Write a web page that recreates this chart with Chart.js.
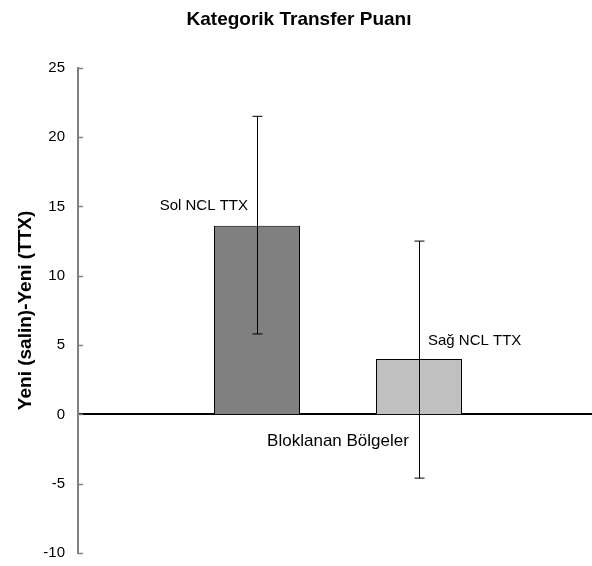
<!DOCTYPE html>
<html>
<head>
<meta charset="utf-8">
<script src="https://cdn.jsdelivr.net/npm/chart.js@4"></script>
<style>
    html, body { margin: 0; padding: 0; background: #fff; overflow: hidden; }
    #wrap { width: 598px; height: 575px; }
</style>
</head>
<body>
<div id="wrap"><canvas id="grafico"></canvas></div>
<script>
// ================= DADOS =================
const categorias = ["Bloklanan Bölgeler"];
const series = ["Sol NCL TTX", "Sağ NCL TTX"];
const medias = [13.6, 4.0];
const erroBaixo = [5.8, -4.6];
const erroAlto = [21.5, 12.5];
const coresBarras = ["#808080", "#c0c0c0"];
const yMin = -10, yMax = 25, yPasso = 5;

const FONTE = "'Liberation Sans', Arial, sans-serif";

// ================= PLUGIN: barras de erro + rotulos =================
const extras = {
    id: "extras",
    afterDatasetsDraw(chart) {
        const ctx = chart.ctx;
        const y = chart.scales.y;
        ctx.save();

        // marcas do eixo y para dentro
        ctx.strokeStyle = "#808080";
        ctx.lineWidth = 1.5;
        y.ticks.forEach(t => {
            const py = Math.round(y.getPixelForValue(t.value)) + 0.5;
            ctx.beginPath();
            ctx.moveTo(y.right, py);
            ctx.lineTo(y.right + 5, py);
            ctx.stroke();
        });

        chart.data.datasets.forEach((ds, i) => {
            const bar = chart.getDatasetMeta(i).data[0];
            const x = Math.round(bar.x) + 0.5;
            const top = y.getPixelForValue(erroAlto[i]);
            const bot = y.getPixelForValue(erroBaixo[i]);
            ctx.strokeStyle = "#000";
            ctx.lineWidth = 1;
            ctx.beginPath();
            ctx.moveTo(x, top); ctx.lineTo(x, bot);
            ctx.moveTo(x - 5, top); ctx.lineTo(x + 5, top);
            ctx.moveTo(x - 5, bot); ctx.lineTo(x + 5, bot);
            ctx.stroke();

            ctx.fillStyle = "#000";
            ctx.font = "15px " + FONTE;
            ctx.textBaseline = "middle";
            if (i === 0) {
                ctx.textAlign = "right";
                ctx.fillText(ds.label, bar.x - 9, bar.y - 20);
            } else {
                ctx.textAlign = "left";
                ctx.fillText(ds.label, bar.x + 9, bar.y - 18);
            }
        });
        ctx.restore();
    }
};

// ================= GRAFICO =================
const ctx = document.getElementById("grafico").getContext("2d");
new Chart(ctx, {
    type: "bar",
    data: {
        labels: categorias,
        datasets: series.map((nome, i) => ({
            label: nome,
            data: [medias[i]],
            backgroundColor: coresBarras[i],
            borderColor: "#000",
            borderWidth: 1,
            categoryPercentage: 0.623,
            barPercentage: 0.531
        }))
    },
    options: {
        responsive: true,
        maintainAspectRatio: false,
        animation: false,
        layout: { padding: { left: 0, right: 0, top: 0, bottom: 4 } },
        plugins: {
            legend: { display: false },
            tooltip: { enabled: false },
            title: {
                display: true,
                text: "Kategorik Transfer Puanı",
                color: "#000",
                font: { family: FONTE, size: 19, weight: "bold" },
                padding: { top: 8, bottom: 37 }
            }
        },
        scales: {
            x: {
                position: { y: 0 },
                grid: { display: false, drawTicks: false },
                border: { display: true, color: "#000", width: 2 },
                ticks: {
                    color: "#000",
                    font: { family: FONTE, size: 17 },
                    padding: 17
                }
            },
            y: {
                min: yMin,
                max: yMax,
                afterFit(scale) { scale.width = 78; },
                grid: { display: false, drawTicks: false },
                border: { display: true, color: "#808080", width: 2 },
                ticks: {
                    stepSize: yPasso,
                    color: "#000",
                    font: { family: FONTE, size: 15 },
                    padding: 13
                },
                title: {
                    display: true,
                    text: "Yeni (salin)-Yeni (TTX)",
                    color: "#000",
                    font: { family: FONTE, size: 19, weight: "bold" },
                    padding: { top: 14, bottom: 0 }
                }
            }
        }
    },
    plugins: [extras]
});
</script>
</body>
</html>
